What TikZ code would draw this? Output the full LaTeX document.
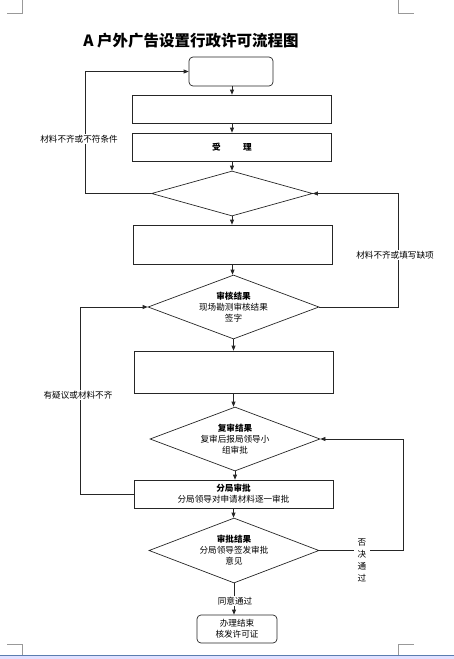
\documentclass[tikz,border=0pt]{standalone}
\usepackage{fontspec}
\setmainfont{Noto Sans CJK SC}
\usetikzlibrary{shapes.geometric,arrows.meta}
\begin{document}
\begin{tikzpicture}[x=1pt,y=-1pt,
  line/.style={draw=black!85,line width=0.7pt},
  arr/.style={line,-{Triangle[length=5pt,width=4pt]}},
  txt/.style={font=\fontsize{8.6}{11}\selectfont,align=center},
  box/.style={line,txt,rectangle,inner sep=0pt,minimum width=199pt},
  rbox/.style={box,rounded corners=4pt},
  dia/.style={line,txt,diamond,inner sep=0pt,aspect=2.66},
  lab/.style={txt,fill=white,inner sep=1pt},
  cropmark/.style={draw=black!40,line width=0.8pt}]
\useasboundingbox (0,0) rectangle (454,659);
% page marks and window strip
\fill[blue!12!white] (0,655) rectangle (454,659);
\draw[draw={rgb,255:red,90;green,125;blue,175},line width=0.9pt] (0,655) -- (454,655);
\draw[cropmark] (7,13) -- (22,13) -- (22,0);
\draw[cropmark] (398,0) -- (398,13) -- (414,13);
\draw[cropmark] (7,644) -- (22,644) -- (22,655);
\draw[cropmark] (398,655) -- (398,644) -- (414,644);
% title
\node[font=\fontsize{15.5}{18}\selectfont\bfseries] (title) at (191,41) {A 户外广告设置行政许可流程图};
% nodes
\node[rbox,minimum width=84pt,minimum height=29pt] (start) at (231,71.5) {};
\node[box,minimum height=28pt] (b1) at (232,109) {};
\node[box,minimum height=28pt,font=\fontsize{8.6}{11}\selectfont\bfseries] (b2) at (232,147) {受\hspace{2.6em}理};
\node[dia,minimum width=161pt,minimum height=45pt] (d1) at (232,193.5) {};
\node[box,minimum height=39pt] (b3) at (232.5,244.5) {};
\node[dia,minimum width=171pt,minimum height=64pt] (d2) at (233.5,307) {\textbf{审核结果}\\现场勘测审核结果\\签字};
\node[box,minimum height=42pt] (b4) at (233.5,372) {};
\node[dia,minimum width=170pt,minimum height=64pt] (d3) at (235,439) {\textbf{复审结果}\\复审后报局领导小\\组审批};
\node[box,minimum height=28pt] (b5) at (233.5,494) {\textbf{分局审批}\\分局领导对申请材料逐一审批};
\node[dia,minimum width=170pt,minimum height=65pt] (d4) at (234,550.5) {\textbf{审批结果}\\分局领导签发审批\\意见};
\node[rbox,minimum width=80pt,minimum height=28pt] (end) at (237,629) {办理结束\\核发许可证};
% main flow
\draw[arr] (start.south -| b1.north) -- (b1.north);
\draw[arr] (b1.south) -- (b2.north);
\draw[arr] (b2.south) -- (d1.north);
\draw[arr] (d1.south) -- (d1.south |- b3.north);
\draw[arr] (b3.south) -- (b3.south |- d2.north);
\draw[arr] (d2.south) -- (d2.south |- b4.north);
\draw[arr] (b4.south) -- (b4.south |- d3.north);
\draw[arr] (d3.south) -- (d3.south |- b5.north);
\draw[arr] (b5.south) -- (b5.south |- d4.north);
\draw[arr] (d4.south) -- (d4.south |- end.north);
\node[lab] (ok) at (235,601) {同意通过};
% loops
\coordinate (l1a) at (85,193.5);
\coordinate (l1b) at (85,71.5);
\draw[arr] (d1.west) -- (l1a) -- (l1b) -- (start.west);
\node[lab] (lab1) at (79,139) {材料不齐或不符条件};
\coordinate (r1a) at (398,307);
\coordinate (r1b) at (398,193.5);
\draw[arr] (d2.east) -- (r1a) -- (r1b) -- (d1.east);
\node[lab] (lab2) at (395,255) {材料不齐或填写缺项};
\coordinate (l2a) at (80,494);
\coordinate (l2b) at (80,307);
\draw[arr] (b5.west) -- (l2a) -- (l2b) -- (d2.west);
\node[lab] (lab3) at (78,395) {有疑议或材料不齐};
\coordinate (r2a) at (403,550.5);
\coordinate (r2b) at (403,439);
\draw[arr] (d4.east) -- (r2a) -- (r2b) -- (d3.east);
\node[lab,font=\fontsize{8.6}{12}\selectfont,inner xsep=4pt] (lab4) at (362,560) {否\\决\\通\\过};
\end{tikzpicture}
\end{document}
